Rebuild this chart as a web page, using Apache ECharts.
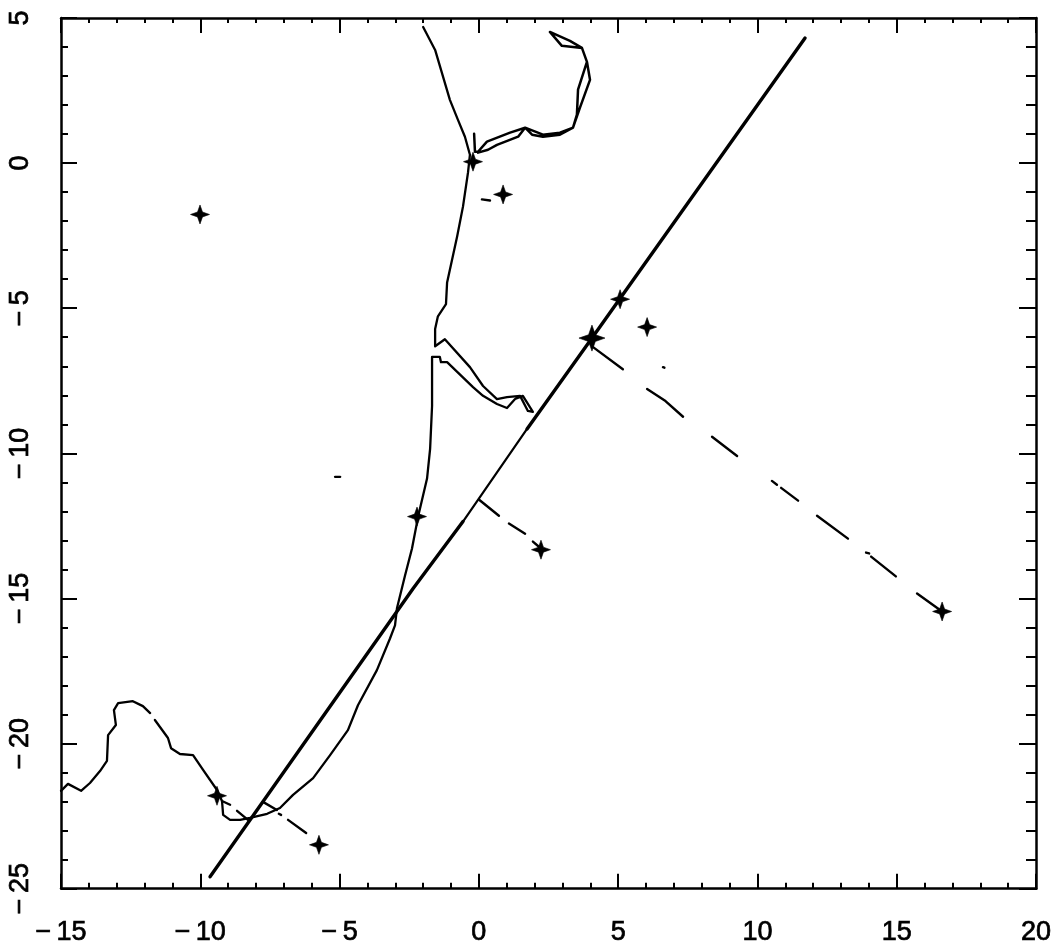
<!DOCTYPE html>
<html><head><meta charset="utf-8">
<script src="https://cdn.jsdelivr.net/npm/echarts@6/dist/echarts.min.js"></script>
<style>html,body{margin:0;background:#fff}#c{width:1055px;height:946px}</style></head>
<body><div id="c"></div>
<script>
const curveLower = [[-15.00,-21.63],[-14.75,-21.39],[-14.28,-21.63],[-13.96,-21.36],[-13.60,-20.95],[-13.35,-20.60],[-13.31,-19.71],[-13.03,-19.36],[-13.10,-18.85],[-12.95,-18.61],[-12.42,-18.54],[-12.06,-18.71],[-11.80,-18.95]];
const curveMain = [[-11.63,-19.19],[-11.16,-19.81],[-11.05,-20.16],[-10.73,-20.36],[-10.26,-20.40],[-9.90,-20.91],[-9.40,-21.60],[-9.22,-21.98],[-9.18,-22.46],[-8.93,-22.63],[-8.57,-22.63],[-8.22,-22.56],[-7.60,-22.42],[-7.14,-22.22],[-6.67,-21.77],[-5.95,-21.19],[-5.34,-20.40],[-4.70,-19.54],[-4.34,-18.68],[-3.66,-17.47],[-3.19,-16.38],[-3.01,-15.93],[-2.94,-15.34],[-2.65,-14.21],[-2.40,-13.28],[-2.18,-12.18],[-1.86,-10.87],[-1.75,-9.85],[-1.68,-8.37],[-1.68,-6.68],[-1.40,-6.68],[-1.36,-6.86],[-1.14,-6.86],[-0.21,-7.72],[0.15,-8.02],[0.65,-8.30],[1.01,-8.44],[1.30,-8.13],[1.58,-8.02],[1.94,-8.57],[1.76,-8.54],[1.48,-8.02],[1.01,-8.06],[0.65,-8.13],[0.15,-7.68],[-0.32,-7.03],[-1.22,-6.07],[-1.57,-6.31],[-1.57,-5.72],[-1.47,-5.28],[-1.18,-4.86],[-1.14,-4.11],[-0.96,-3.32],[-0.78,-2.53],[-0.57,-1.50],[-0.39,-0.33],[-0.32,0.29],[-0.50,0.91],[-0.75,1.49],[-1.04,2.18],[-1.57,3.90],[-2.00,4.69]];
const curveLoop = [[-0.17,1.01],[-0.14,0.39],[-0.03,0.39],[0.29,0.74],[1.12,1.05],[1.66,1.22],[1.91,0.98],[2.30,0.91],[2.91,0.98],[3.38,1.22],[3.63,1.91],[3.99,2.87],[3.88,3.49],[3.70,3.97],[3.27,4.21],[2.55,4.52],[2.98,4.04],[3.70,3.97],[3.88,3.49],[3.56,2.53],[3.52,1.67],[3.38,1.22],[2.91,1.05],[2.30,0.98],[1.66,1.22],[1.41,0.91],[0.65,0.63],[0.33,0.46],[-0.03,0.36]];
const fitLow = [[-9.65,-24.59],[-2.36,-14.66],[-0.57,-12.35]];
const fitMid = [[-0.57,-12.35],[1.73,-9.16]];
const fitHigh = [[1.73,-9.16],[4.03,-6.07],[11.71,4.31]];
const stars = [[-10.01,-1.77],[0.87,-1.08],[-0.21,0.05],[5.07,-4.69],[6.04,-5.65],[-2.22,-12.18],[2.23,-13.32],[16.63,-15.45],[-9.40,-21.80],[-5.74,-23.49]];
const bigStars = [[4.06,-6.03]];
const dashes = [
 [[0.11,-1.25],[0.40,-1.29]],
 [[4.10,-6.34],[5.17,-7.10]],
 [[6.61,-7.03],[6.66,-7.05]],
 [[6.04,-7.78],[6.70,-8.20],[7.33,-8.74]],
 [[8.37,-9.43],[9.27,-10.09]],
 [[10.52,-10.95],[10.70,-11.08]],
 [[10.85,-11.19],[11.46,-11.63]],
 [[12.14,-12.15],[13.25,-12.94]],
 [[13.90,-13.42],[14.01,-13.45]],
 [[14.08,-13.56],[14.97,-14.24]],
 [[15.73,-14.83],[16.63,-15.45]],
 [[0.01,-11.60],[0.72,-12.15]],
 [[1.08,-12.42],[1.66,-12.77]],
 [[1.94,-13.04],[2.23,-13.28]],
 [[-9.22,-21.98],[-8.93,-22.11]],
 [[-8.68,-22.32],[-8.29,-22.63]],
 [[-7.75,-22.01],[-7.25,-22.29]],
 [[-7.18,-22.42],[-7.10,-22.46]],
 [[-6.85,-22.63],[-6.20,-23.08]],
 [[-5.16,-10.81],[-4.98,-10.81]]
];
const xRange = [-15, 20];
const yRange = [-25, 5];
const tickStep = 5;

const ink = '#000';
const fmt = v => String(v).replace('-', '\u2212\u2009');
const starPath = 'path://M0,-10 L2.6,-2.6 L10,0 L2.6,2.6 L0,10 L-2.6,2.6 L-10,0 L-2.6,-2.6 Z';
const labelFont = {fontFamily:'Liberation Sans', fontSize:27, color:ink, textBorderColor:ink, textBorderWidth:0.7, formatter:fmt};

function axis(range, position, opts){
  const showLabel = opts.label;
  return {
    type:'value', min:range[0], max:range[1], interval:tickStep, position,
    splitLine:{show:false},
    axisLine:{show:true, onZero:false, lineStyle:{color:ink, width:2.5}},
    axisTick:{show:true, inside:true, length:opts.major, lineStyle:{color:ink, width:2}},
    minorTick:{show:true, splitNumber:5, length:opts.minor, lineStyle:{color:ink, width:2}},
    axisLabel: showLabel ? Object.assign({show:true, margin:opts.margin, rotate:opts.rotate||0, hideOverlap:false, showMinLabel:true, showMaxLabel:true}, labelFont) : {show:false}
  };
}
const lineSeries = (data, width) => ({type:'line', data, symbol:'none', smooth:false, silent:true, clip:false,
  lineStyle:{color:ink, width, cap:'round', join:'round'}});
const starSeries = (data, size) => ({type:'scatter', data, symbol:starPath, symbolSize:size, silent:true,
  itemStyle:{color:ink, borderColor:ink, borderWidth:0.6, opacity:1}});

const chart = echarts.init(document.getElementById('c'), null, {renderer:'canvas'});
chart.setOption({
  animation:false, backgroundColor:'#fff',
  grid:{left:61, right:19, top:18, bottom:55, containLabel:false},
  xAxis:[axis(xRange,'bottom',{label:true, major:15, minor:6, margin:30}), axis(xRange,'top',{label:false, major:15, minor:5})],
  yAxis:[axis(yRange,'left',{label:true, major:16, minor:7, margin:27, rotate:90}), axis(yRange,'right',{label:false, major:17, minor:10})],
  series:[
    lineSeries(curveLower,2.3), lineSeries(curveMain,2.3), lineSeries(curveLoop,2.5),
    lineSeries(fitLow,3.4), lineSeries(fitMid,2.2), lineSeries(fitHigh,3.4),
    ...dashes.map(d => lineSeries(d,2.4)),
    starSeries(stars,19), starSeries(bigStars,26)
  ]
});
</script></body></html>
